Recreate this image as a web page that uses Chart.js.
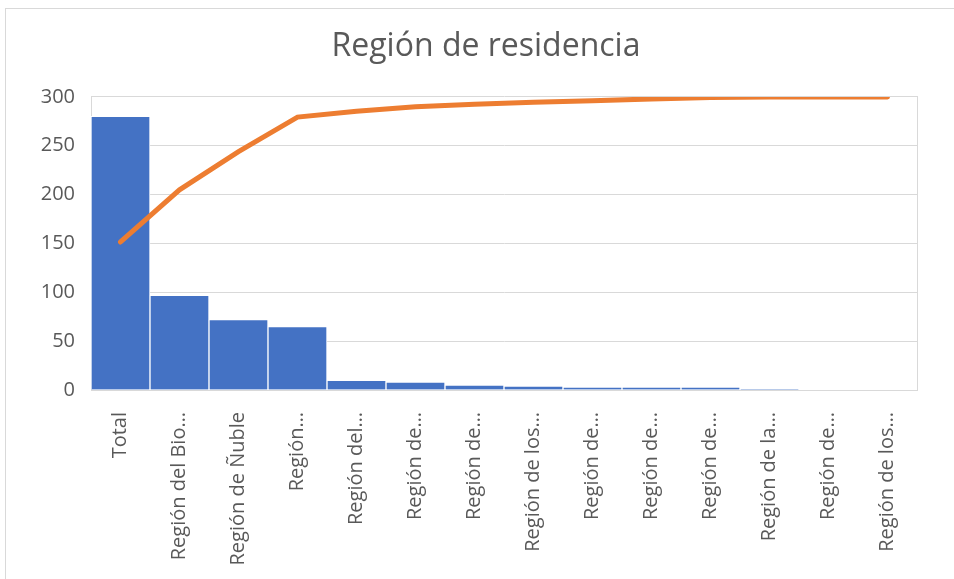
<!DOCTYPE html>
<html>
<head>
<meta charset="utf-8">
<script src="https://cdn.jsdelivr.net/npm/chart.js@4"></script>
<style>
  html, body { margin: 0; padding: 0; background: #fff; }
  #wrap { position: relative; width: 954px; height: 579px; }
  #frame { position: absolute; left: 5px; top: 8px; right: -2px; bottom: -2px; border: 1px solid #d9d9d9; }
</style>
</head>
<body>
<div id="wrap">
  <div id="frame"></div>
  <canvas id="myChart" width="954" height="579"></canvas>
</div>
<script>
// categories (as shown, truncated like the original)
var labels = ["Total", "Región del Bio…", "Región de Ñuble", "Región…", "Región del…", "Región de…",
              "Región de…", "Región de los…", "Región de…", "Región de…", "Región de…", "Región de la…",
              "Región de…", "Región de los…"];
// bar values
var counts = [280, 97, 72, 65, 10, 8, 5, 4, 3, 3, 3, 1, 0, 0];
// cumulative line, percent (secondary axis 0-100)
var cumulative = [50.5, 68.3, 81.3, 93.1, 95.1, 96.6, 97.5, 98.2, 98.7, 99.3, 99.8, 100, 100, 100];
var yTicks = [0, 50, 100, 150, 200, 250, 300];

var textColor = '#595959';
var gridColor = '#d9d9d9';

var ctx = document.getElementById('myChart').getContext('2d');
var chart = new Chart(ctx, {
    type: 'bar',
    data: {
        labels: labels,
        datasets: [{
            type: 'line',
            data: cumulative,
            yAxisID: 'y1',
            borderColor: '#ED7D31',
            borderWidth: 5,
            borderCapStyle: 'round',
            pointRadius: 0,
            tension: 0,
            order: 0
        }, {
            type: 'bar',
            data: counts,
            yAxisID: 'y',
            backgroundColor: '#4472C4',
            borderColor: '#ffffff',
            borderWidth: 1,
            categoryPercentage: 1,
            barPercentage: 1,
            order: 1
        }]
    },
    options: {
        responsive: false,
        animation: false,
        // padding chosen so the title centre lands where the original has it
        layout: { padding: { left: 18, right: 0, top: 0, bottom: 0 } },
        plugins: {
            legend: { display: false },
            tooltip: { enabled: false },
            title: {
                display: true,
                text: 'Región de residencia',
                color: textColor,
                font: { family: 'Open Sans', size: 32, weight: 'normal' },
                padding: { top: 28, bottom: 30.5 }
            }
        },
        scales: {
            x: {
                grid: { display: false },
                border: { display: true, color: gridColor },
                ticks: {
                    color: textColor,
                    font: { family: 'Open Sans', size: 20 },
                    minRotation: 90,
                    maxRotation: 90,
                    autoSkip: false,
                    padding: 14
                },
                afterFit: function(s) { s.height = 189; }
            },
            y: {
                min: 0,
                max: 300,
                afterBuildTicks: function(s) { s.ticks = yTicks.map(function(v) { return { value: v }; }); },
                grid: { color: gridColor, drawTicks: false },
                border: { display: true, color: gridColor },
                ticks: {
                    color: textColor,
                    font: { family: 'Open Sans', size: 20 },
                    padding: 16
                },
                afterFit: function(s) { s.width = 73; }
            },
            y1: {
                position: 'right',
                min: 0,
                max: 100,
                grid: { drawOnChartArea: false, drawTicks: false },
                border: { display: true, color: gridColor },
                ticks: { display: false },
                afterFit: function(s) { s.width = 37; }
            }
        }
    }
});
</script>
</body>
</html>
